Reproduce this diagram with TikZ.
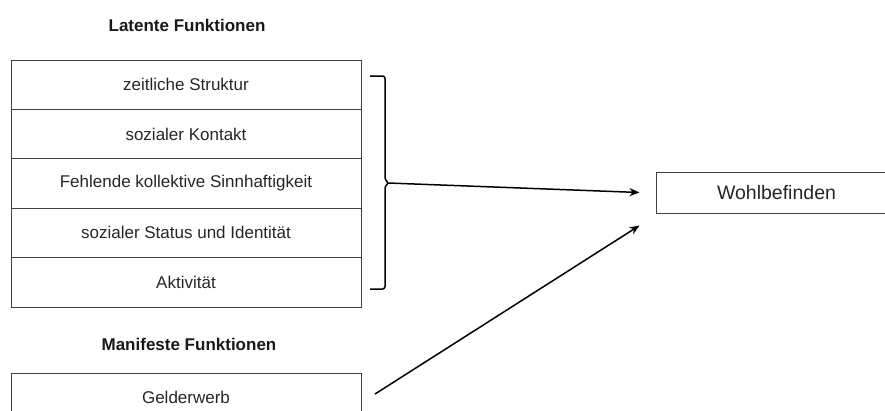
\documentclass[tikz,border=0pt]{standalone}
\usepackage{fontspec}
\setmainfont{Liberation Sans}
\usetikzlibrary{arrows.meta}
\tikzset{
  feld/.style={draw=black!75, line width=1pt, minimum width=350pt, minimum height=49.4pt, inner sep=0pt, text=black!85, font=\fontsize{17}{20}\selectfont},
  titel/.style={text=black!90, font=\fontsize{17}{20}\selectfont\bfseries},
  pfeil/.style={-{Stealth[length=10pt,width=8pt]}, line width=1.5pt}
}
\begin{document}
\begin{tikzpicture}[x=1pt,y=-1pt]
\useasboundingbox (0,0) rectangle (885,410);
\clip (0,0) rectangle (885,410);

\node[titel] (latent) at (187,25) {Latente Funktionen};
\node[feld] (zeit) at (186,84.7) {zeitliche Struktur};
\node[feld] (kontakt) at (186,134.1) {sozialer Kontakt};
\node[feld] (sinn) at (186,183.5) {Fehlende kollektive Sinnhaftigkeit};
\node[feld] (status) at (186,232.9) {sozialer Status und Identität};
\node[feld] (aktiv) at (186,282.3) {Aktivität};

\node[titel] (manifest) at (189,344) {Manifeste Funktionen};
\node[feld] (geld) at (186,397.7) {Gelderwerb};

\node[feld, minimum width=241pt, minimum height=41pt, font=\fontsize{19.5}{22}\selectfont] (wohl) at (776.5,192.5) {Wohlbefinden};

% Klammer um die latenten Funktionen
\draw[line width=1.5pt, rounded corners=2.5pt] (370,76) -- (385,76) -- (385,180) -- (389,183) -- (385,186) -- (385,289) -- (370,289);
\coordinate (tip) at (388,183);
\coordinate (start) at (375,394);
\coordinate (ziel1) at ([xshift=-16pt]wohl.west);
\coordinate (ziel2) at ([shift={(-16,12)}]wohl.south west);

\draw[pfeil] (tip) -- (ziel1);
\draw[pfeil] (start) -- (ziel2);
\end{tikzpicture}
\end{document}
